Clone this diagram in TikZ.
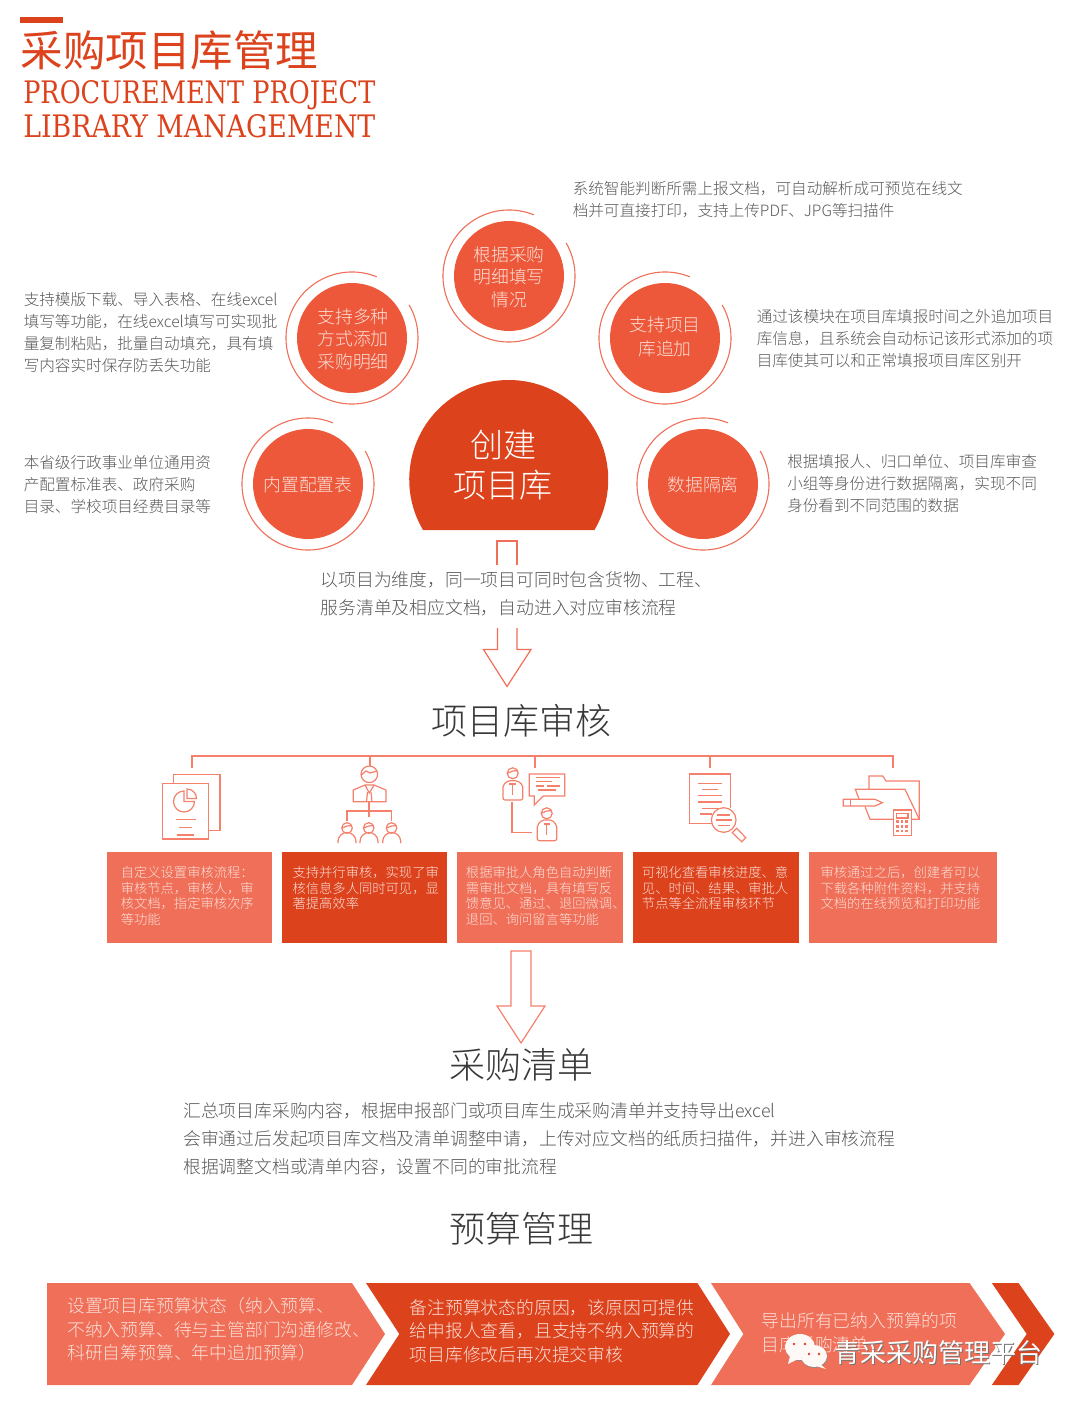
\documentclass[tikz,border=0pt]{standalone}
\usepackage{graphicx}
\usepackage{fontspec}
\setmainfont{Noto Sans CJK SC}[UprightFont=* Light]
\newfontfamily\plainfont{Noto Sans CJK SC}
\newfontfamily\slabfont{DejaVu Serif}
\newlength{\du}
\setlength{\du}{0.75pt}
\newcommand{\pxfont}[2]{\fontsize{#1\du}{#2\du}\selectfont}
\definecolor{dialinecolor}{rgb}{0.960000, 0.500000, 0.420000}
\definecolor{darkred}{rgb}{0.862000, 0.259000, 0.110000}
\definecolor{lightred}{rgb}{0.937000, 0.435000, 0.345000}
\definecolor{circlered}{rgb}{0.925000, 0.345000, 0.225000}
\definecolor{greytext}{rgb}{0.350000, 0.340000, 0.340000}
\definecolor{boxtext}{rgb}{0.990000, 0.880000, 0.850000}
\tikzset{
  sidetext/.style={anchor=west,align=left,inner sep=0pt,text=greytext,font=\pxfont{15.6}{22}},
  bodytext/.style={anchor=west,align=left,inner sep=0pt,text=greytext,font=\pxfont{17.8}{28}},
  headtext/.style={inner sep=0pt,text=black!78,font=\pxfont{36}{40}},
  circletext/.style={align=center,inner sep=0pt,text=boxtext,font=\pxfont{17.8}{22.5}},
  boxlabel/.style={anchor=west,align=left,inner sep=0pt,text=boxtext,font=\pxfont{13.3}{15.4}},
  chevtext/.style={anchor=west,align=left,inner sep=0pt,text=boxtext,font=\pxfont{17.8}{23.6}},
  slabtext/.style={anchor=base west,inner sep=0pt,text=darkred,font=\slabfont},
  discnode/.style={circle,fill=circlered,minimum size=110\du,inner sep=0pt},
  ringline/.style={draw=lightred,line width=1.1\du},
  iconline/.style={draw=dialinecolor,line width=1.2\du},
  bodyline/.style={iconline,rounded corners=2\du},
  outline/.style={draw=lightred,line width=1.2\du,line join=miter},
  lightbox/.style={fill=lightred,inner sep=0pt,minimum height=91\du},
  darkbox/.style={fill=darkred,inner sep=0pt,minimum height=91\du}
}
\begin{document}
\begin{tikzpicture}
\pgftransformxscale{1.000000}
\pgftransformyscale{-1.000000}
\useasboundingbox (0\du,0\du) rectangle (1080\du,1401\du);
\fill[darkred] (20\du,17\du) rectangle (63\du,23\du);
\node[inner sep=0pt,text=darkred,font=\plainfont\pxfont{42.5}{46}] (maintitle) at (169.5\du,50\du) {采购项目库管理};
\node[slabtext] (entitlea) at (23\du,103.5\du) {\resizebox{352\du}{23\du}{PROCUREMENT PROJECT}};
\node[slabtext] (entitleb) at (23\du,137.5\du) {\resizebox{352\du}{23\du}{LIBRARY MANAGEMENT}};
% discs and rings
\node[discnode] (disctop) at (509\du,276\du) {};
\node[circletext] (labeltop) at (509\du,277\du) {根据采购\\明细填写\\情况};
\draw[ringline] (509\du,276\du) ++(-68:66\du) arc[start angle=-68,end angle=-390,radius=66\du];
\node[discnode] (discleft) at (352\du,338\du) {};
\node[circletext] (labelleft) at (353\du,339\du) {支持多种\\方式添加\\采购明细};
\draw[ringline] (352\du,338\du) ++(-68:66\du) arc[start angle=-68,end angle=-390,radius=66\du];
\node[discnode] (discright) at (665\du,338\du) {};
\node[circletext,font=\pxfont{17.8}{24}] (labelright) at (665\du,337\du) {支持项目\\库追加};
\draw[ringline] (665\du,338\du) ++(-68:66\du) arc[start angle=-68,end angle=-390,radius=66\du];
\node[discnode] (disctable) at (308\du,484\du) {};
\node[circletext] (labeltable) at (308\du,485\du) {内置配置表};
\draw[ringline] (308\du,484\du) ++(-68:66\du) arc[start angle=-68,end angle=-390,radius=66\du];
\node[discnode] (discdata) at (703\du,484\du) {};
\node[circletext] (labeldata) at (703\du,485\du) {数据隔离};
\draw[ringline] (703\du,484\du) ++(-68:66\du) arc[start angle=-68,end angle=-390,radius=66\du];
% dome
\fill[darkred] (423\du,530\du) arc[start angle=-210.5,end angle=30.5,radius=99.5\du] -- cycle;
\node[align=center,inner sep=0pt,text=white,font=\pxfont{33}{40}] (domelabel) at (503\du,465\du) {创建\\项目库};
\node[sidetext] (notetop) at (572.5\du,200\du) {系统智能判断所需上报文档，可自动解析成可预览在线文\\档并可直接打印，支持上传PDF、JPG等扫描件};
\node[sidetext] (noteleft) at (23.5\du,333\du) {支持模版下载、导入表格、在线excel\\填写等功能，在线excel填写可实现批\\量复制粘贴，批量自动填充，具有填\\写内容实时保存防丢失功能};
\node[sidetext] (noteright) at (756.5\du,338.5\du) {通过该模块在项目库填报时间之外追加项目\\库信息，且系统会自动标记该形式添加的项\\目库使其可以和正常填报项目库区别开};
\node[sidetext] (notetable) at (23.5\du,485\du) {本省级行政事业单位通用资\\产配置标准表、政府采购\\目录、学校项目经费目录等};
\node[sidetext] (notedata) at (787\du,484\du) {根据填报人、归口单位、项目库审查\\小组等身份进行数据隔离，实现不同\\身份看到不同范围的数据};
% first arrow
\draw[outline] (497\du,565\du)--(497\du,541\du)--(517\du,541\du)--(517\du,565\du);
\node[bodytext] (notecreate) at (320.5\du,594\du) {以项目为维度，同一项目可同时包含货物、工程、\\服务清单及相应文档，自动进入对应审核流程};
\draw[outline] (497.5\du,628\du)--(497.5\du,649.5\du)--(483.5\du,649.5\du)--(507\du,686.5\du)--(531\du,649.5\du)--(517\du,649.5\du)--(517\du,628\du);
\node[headtext] (headaudit) at (521\du,721\du) {项目库审核};
% tree
\coordinate (treea) at (192\du,756\du);
\coordinate (treeb) at (370\du,756\du);
\coordinate (treec) at (535\du,756\du);
\coordinate (treed) at (710\du,756\du);
\coordinate (treee) at (893\du,756\du);
\coordinate (dropa) at (192\du,768\du);
\coordinate (dropb) at (370\du,766\du);
\coordinate (dropc) at (535\du,768\du);
\coordinate (dropd) at (710\du,768\du);
\coordinate (drope) at (893\du,768\du);
\draw[iconline] (dropa)--(treea)--(treee)--(drope);
\draw[iconline] (treeb)--(dropb);
\draw[iconline] (treec)--(dropc);
\draw[iconline] (treed)--(dropd);
% icon document
\draw[iconline] (173.3\du,783\du)--(173.3\du,774.3\du)--(220\du,774.3\du)--(220\du,830.7\du)--(208.7\du,830.7\du);
\draw[iconline] (162.3\du,783.3\du) rectangle (208.7\du,839\du);
\draw[iconline] (194.5\du,801.5\du) arc[start angle=0,end angle=270,radius=10.5\du]--(184\du,801.5\du)--cycle;
\draw[iconline] (187\du,789\du) arc[start angle=-90,end angle=0,radius=9.5\du]--(187\du,798.5\du)--cycle;
\draw[iconline] (175.7\du,819.3\du)--(195.7\du,819.3\du);
\draw[iconline] (178.7\du,827.3\du)--(192.3\du,827.3\du);
\draw[iconline] (177.3\du,835\du)--(194\du,835\du);
% icon people
\draw[iconline] (369.3\du,774.3\du) circle (8.3\du);
\draw[iconline] (361.3\du,775\du)--(366\du,771\du)--(370\du,773\du)--(377\du,771\du);
\draw[iconline] (353.3\du,801.7\du)--(353.3\du,790\du)--(365\du,785\du)--(374\du,785\du)--(386\du,790\du)--(386\du,801.7\du)--cycle;
\draw[iconline] (365\du,785\du)--(369.3\du,793\du)--(374\du,785\du);
\draw[iconline] (367.5\du,792\du)--(366.5\du,801.7\du);
\draw[iconline] (371\du,792\du)--(372\du,801.7\du);
\draw[iconline] (369\du,801.7\du)--(369\du,817\du);
\draw[iconline] (347\du,821\du)--(347\du,811\du)--(391.7\du,811\du)--(391.7\du,821\du);
\draw[iconline] (347\du,828\du) circle (5.3\du);
\draw[iconline] (368.7\du,828\du) circle (5.3\du);
\draw[iconline] (391.5\du,828\du) circle (5.3\du);
\draw[iconline] (342\du,828\du)--(347\du,826\du)--(352\du,825.5\du);
\draw[iconline] (363.7\du,828\du)--(368.7\du,826\du)--(373.7\du,825.5\du);
\draw[iconline] (386.5\du,828\du)--(391.5\du,826\du)--(396.5\du,825.5\du);
\draw[iconline] (338\du,843\du)--(338\du,841.5\du) arc[start angle=-180,end angle=0,radius=9\du]--(356\du,843\du);
\draw[iconline] (360\du,843\du)--(360\du,841.5\du) arc[start angle=-180,end angle=0,radius=9\du]--(378\du,843\du);
\draw[iconline] (382.7\du,843\du)--(382.7\du,841.5\du) arc[start angle=-180,end angle=0,radius=9\du]--(400.7\du,843\du);
% icon review
\draw[iconline] (512.7\du,773.3\du) circle (5.5\du);
\draw[iconline] (507.5\du,773.3\du)--(512.7\du,771\du)--(518\du,770.5\du);
\draw[bodyline] (503\du,800\du)--(503\du,785\du)--(508\du,780.7\du)--(517.5\du,780.7\du)--(522.7\du,785\du)--(522.7\du,800\du)--cycle;
\draw[iconline] (509\du,784\du)--(516\du,784\du);
\draw[iconline] (512.7\du,784\du)--(512.7\du,795\du);
\draw[iconline] (512\du,801.7\du)--(512\du,832.3\du)--(531.7\du,832.3\du);
\draw[iconline] (546.7\du,813.3\du) circle (5.5\du);
\draw[iconline] (541.5\du,813.3\du)--(546.7\du,811\du)--(552\du,810.5\du);
\draw[bodyline] (537.3\du,840.7\du)--(537.3\du,825\du)--(542\du,820\du)--(552\du,820\du)--(556.7\du,825\du)--(556.7\du,840.7\du)--cycle;
\draw[iconline] (543.5\du,824\du)--(550\du,824\du);
\draw[iconline] (546.7\du,824\du)--(546.7\du,835\du);
\draw[iconline] (529.3\du,774\du)--(564.7\du,774\du)--(564.7\du,796\du)--(543.3\du,796\du)--(534.3\du,805\du)--(534.3\du,796\du)--(529.3\du,796\du)--cycle;
\draw[iconline] (536\du,777.5\du)--(560\du,777.5\du);
\draw[iconline] (536\du,781.7\du)--(552\du,781.7\du);
\draw[iconline] (536\du,786\du)--(544\du,786\du);
\draw[iconline] (547\du,786\du)--(560\du,786\du);
\draw[iconline] (538\du,790\du)--(556\du,790\du);
% icon search
\draw[iconline] (730.7\du,808\du)--(730.7\du,774\du)--(689.3\du,774\du)--(689.3\du,823.3\du)--(711.7\du,823.3\du);
\draw[iconline] (698.3\du,783.3\du)--(721.7\du,783.3\du);
\draw[iconline] (702.3\du,789.3\du)--(717.7\du,789.3\du);
\draw[iconline] (698.3\du,795.7\du)--(721.7\du,795.7\du);
\draw[iconline] (698.3\du,802\du)--(721.7\du,802\du);
\draw[iconline] (702.3\du,808.3\du)--(717.7\du,808.3\du);
\draw[iconline] (700\du,814\du)--(711.7\du,814\du);
\draw[iconline] (723.7\du,820\du) circle (12.3\du);
\draw[iconline] (717.3\du,815\du)--(730\du,815\du);
\draw[iconline] (715.7\du,820\du)--(731.7\du,820\du);
\draw[iconline] (717.7\du,825.7\du)--(730\du,825.7\du);
\draw[iconline] (736.7\du,828.3\du)--(745.7\du,837.7\du)--(741.7\du,841.7\du)--(732.3\du,832.7\du)--cycle;
% icon folder
\draw[iconline] (869\du,789.3\du)--(869\du,776\du)--(882.7\du,776\du)--(886\du,781\du)--(919.3\du,781\du)--(919.3\du,819.3\du);
\draw[iconline] (859\du,799\du)--(855.3\du,789.3\du)--(905\du,789.3\du)--(919.3\du,819.3\du)--(911.3\du,819.3\du);
\draw[iconline] (865\du,806.5\du)--(870\du,819.3\du)--(893.3\du,819.3\du);
\draw[iconline] (843.3\du,799.3\du)--(875\du,799.3\du)--(882.3\du,802.7\du)--(875\du,806\du)--(843.3\du,806\du)--cycle;
\draw[iconline] (850.7\du,799.3\du)--(850.7\du,806\du);
\draw[iconline] (893.3\du,810\du) rectangle (911.3\du,835.3\du);
\draw[iconline] (896.7\du,813.3\du) rectangle (908\du,818\du);
\fill[dialinecolor] (896\du,820.3\du) rectangle (898.6\du,822.9\du);
\fill[dialinecolor] (900.7\du,820.3\du) rectangle (903.3\du,822.9\du);
\fill[dialinecolor] (905.4\du,820.3\du) rectangle (908\du,822.9\du);
\fill[dialinecolor] (896\du,825\du) rectangle (898.6\du,827.6\du);
\fill[dialinecolor] (900.7\du,825\du) rectangle (903.3\du,827.6\du);
\fill[dialinecolor] (905.4\du,825\du) rectangle (908\du,827.6\du);
\fill[dialinecolor] (896\du,829.7\du) rectangle (898.6\du,832.3\du);
\fill[dialinecolor] (900.7\du,829.7\du) rectangle (903.3\du,832.3\du);
\fill[dialinecolor] (905.4\du,829.7\du) rectangle (908\du,832.3\du);
% boxes
\node[lightbox,minimum width=165\du] (boxa) at (189.5\du,897.5\du) {};
\node[boxlabel] (labela) at (120.5\du,896\du) {自定义设置审核流程：\\审核节点，审核人，审\\核文档，指定审核次序\\等功能};
\node[darkbox,minimum width=165\du] (boxb) at (364.5\du,897.5\du) {};
\node[boxlabel] (labelb) at (292.3\du,888\du) {支持并行审核，实现了审\\核信息多人同时可见，显\\著提高效率};
\node[lightbox,minimum width=166\du] (boxc) at (540\du,897.5\du) {};
\node[boxlabel] (labelc) at (465.7\du,896\du) {根据审批人角色自动判断\\需审批文档，具有填写反\\馈意见、通过、退回微调、\\退回、询问留言等功能};
\node[darkbox,minimum width=166\du] (boxd) at (716\du,897.5\du) {};
\node[boxlabel] (labeld) at (641.7\du,888\du) {可视化查看审核进度、意\\见、时间、结果、审批人\\节点等全流程审核环节};
\node[lightbox,minimum width=188.3\du] (boxe) at (902.9\du,897.5\du) {};
\node[boxlabel] (labele) at (820.3\du,888\du) {审核通过之后，创建者可以\\下载各种附件资料，并支持\\文档的在线预览和打印功能};
% second arrow
\draw[iconline] (511\du,951\du)--(531\du,951\du)--(531\du,1006\du)--(545\du,1006\du)--(521\du,1043\du)--(497\du,1006\du)--(511\du,1006\du)--cycle;
\node[headtext] (headlist) at (521\du,1064.5\du) {采购清单};
\node[bodytext] (notelist) at (183\du,1139\du) {汇总项目库采购内容，根据申报部门或项目库生成采购清单并支持导出excel\\会审通过后发起项目库文档及清单调整申请，上传对应文档的纸质扫描件，并进入审核流程\\根据调整文档或清单内容，设置不同的审批流程};
\node[headtext] (headbudget) at (521\du,1229\du) {预算管理};
% chevrons
\fill[lightred] (47\du,1283\du)--(352\du,1283\du)--(385\du,1334\du)--(352\du,1385\du)--(47\du,1385\du)--cycle;
\fill[darkred] (366\du,1283\du)--(697.4\du,1283\du)--(730\du,1334\du)--(697.4\du,1385\du)--(366\du,1385\du)--(399.3\du,1334\du)--cycle;
\fill[lightred] (711\du,1283\du)--(969.5\du,1283\du)--(1005\du,1334\du)--(969.5\du,1385\du)--(711\du,1385\du)--(743.4\du,1334\du)--cycle;
\fill[darkred] (991.8\du,1283\du)--(1018.5\du,1283\du)--(1054.4\du,1334\du)--(1018.5\du,1385\du)--(991.8\du,1385\du)--(1026.7\du,1334\du)--cycle;
\node[chevtext] (chevtexta) at (67\du,1329.5\du) {设置项目库预算状态（纳入预算、\\不纳入预算、待与主管部门沟通修改、\\科研自筹预算、年中追加预算）};
\node[chevtext] (chevtextb) at (409.5\du,1331\du) {备注预算状态的原因，该原因可提供\\给申报人查看，且支持不纳入预算的\\项目库修改后再次提交审核};
\node[chevtext] (chevtextc) at (761.5\du,1333\du) {导出所有已纳入预算的项\\目库采购清单};
% watermark
\fill[black!45] (800.5\du,1348\du) ellipse [x radius=15\du,y radius=13\du];
\fill[white!95!lightred] (800\du,1347\du) ellipse [x radius=15\du,y radius=13\du];
\fill[white!95!lightred] (790\du,1356\du)--(788\du,1364\du)--(798\du,1359\du)--cycle;
\fill[black!45] (814.5\du,1357\du) ellipse [x radius=13\du,y radius=11\du];
\fill[white!95!lightred] (814\du,1356\du) ellipse [x radius=13\du,y radius=11\du];
\fill[white!95!lightred] (820\du,1364\du)--(826\du,1369\du)--(816\du,1366\du)--cycle;
\fill[darkred] (794\du,1344\du) circle (1.4\du);
\fill[darkred] (805\du,1344\du) circle (1.4\du);
\fill[darkred] (809\du,1354\du) circle (1.4\du);
\fill[darkred] (819\du,1354\du) circle (1.4\du);
\node[anchor=west,inner sep=0pt,text=black!55,font=\plainfont\pxfont{26}{28}] (marklabelshadow) at (835\du,1354\du) {青采采购管理平台};
\node[anchor=west,inner sep=0pt,text=white,font=\plainfont\pxfont{26}{28}] (marklabel) at (834\du,1353\du) {青采采购管理平台};
\end{tikzpicture}
\end{document}
